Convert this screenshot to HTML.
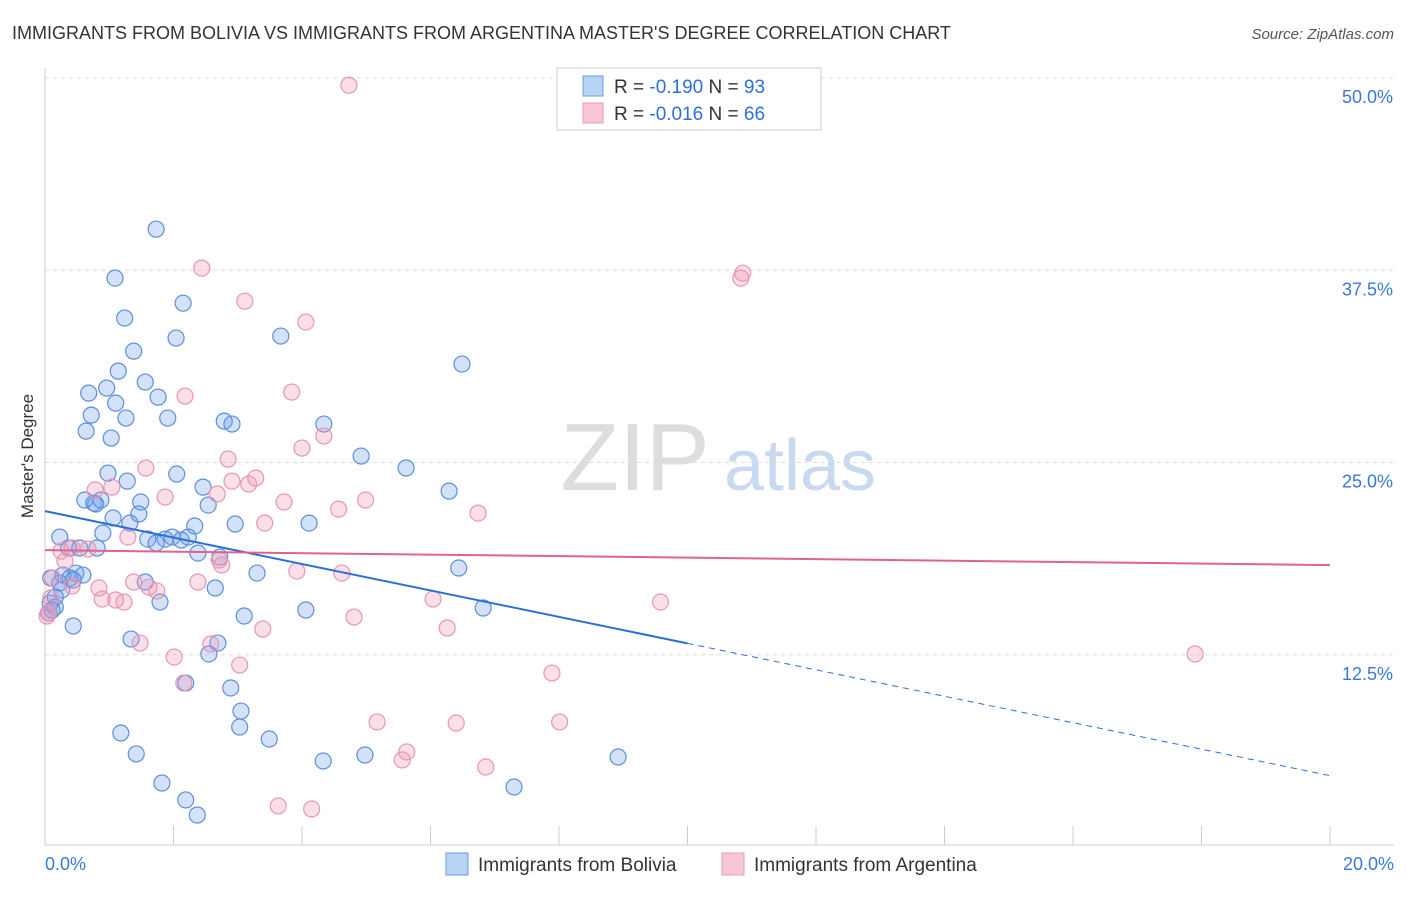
<!DOCTYPE html>
<html><head><meta charset="utf-8"><style>
body{margin:0;background:#fff;font-family:"Liberation Sans",sans-serif;}
svg text{font-family:"Liberation Sans",sans-serif;}
</style></head><body>
<svg id="chart" width="1406" height="892" xmlns="http://www.w3.org/2000/svg">
<text x="12" y="39" font-size="18" fill="#333">IMMIGRANTS FROM BOLIVIA VS IMMIGRANTS FROM ARGENTINA MASTER'S DEGREE CORRELATION CHART</text>
<text x="1394" y="39" font-size="15" fill="#555" text-anchor="end" font-style="italic">Source: ZipAtlas.com</text>
<text transform="translate(33,456) rotate(-90)" font-size="17" fill="#333" text-anchor="middle">Master's Degree</text>
<g>
<text x="635" y="490" font-size="96" fill="#ddd" font-family="Liberation Serif" text-anchor="middle">ZIP</text>
<text x="800" y="490" font-size="72" fill="#c9daf0" text-anchor="middle">atlas</text>
</g>
<g id="grid"></g><g id="axes"></g><g id="pts"></g><g id="trend"></g>
<g>
<rect x="557" y="68" width="264" height="62" fill="#fff" stroke="#ccc"/>
<rect x="583" y="76" width="20" height="20" fill="#b9d3f5" stroke="#6a9ee0"/>
<rect x="583" y="103" width="20" height="20" fill="#f9c6d6" stroke="#eb9ab6"/>
<text x="614" y="93" font-size="19" fill="#333">R = <tspan fill="#2f6fd6">-0.190</tspan>   N = <tspan fill="#2f6fd6">93</tspan></text>
<text x="614" y="120" font-size="19" fill="#333">R = <tspan fill="#2f6fd6">-0.016</tspan>   N = <tspan fill="#2f6fd6">66</tspan></text>
</g>
<g>
<rect x="446" y="853" width="22" height="22" fill="#b9d3f5" stroke="#6a9ee0"/>
<text x="478" y="871" font-size="19" fill="#333">Immigrants from Bolivia</text>
<rect x="722" y="853" width="22" height="22" fill="#f9c6d6" stroke="#eb9ab6"/>
<text x="754" y="871" font-size="19" fill="#333">Immigrants from Argentina</text>
</g>
</svg>
<script>
const boliviaX=[1.73,1.09,2.15,1.24,2.04,3.67,1.38,1.14,1.56,0.68,0.96,1.76,1.10,0.72,1.26,1.91,2.79,2.91,4.34,0.64,1.03,6.49,4.92,5.62,0.98,2.05,1.28,2.46,6.29,0.62,0.76,0.87,1.49,0.79,2.54,1.46,1.06,1.32,2.96,2.33,4.11,0.23,0.90,1.60,1.87,1.98,2.12,1.73,2.38,0.37,0.81,0.54,2.72,0.48,0.28,0.59,3.30,6.44,1.56,0.39,0.23,0.44,0.09,0.26,0.16,0.08,2.65,1.79,0.16,0.06,4.06,6.82,3.10,0.44,1.34,2.69,2.55,2.19,2.89,3.05,1.18,3.03,3.49,1.42,4.33,4.98,8.92,1.82,2.19,2.37,7.30,2.23,0.11];
const boliviaY=[40.17,36.99,35.36,34.39,33.09,33.22,32.24,30.94,30.23,29.51,29.84,29.25,28.86,28.08,27.89,27.89,27.69,27.50,27.50,27.04,26.59,31.40,25.42,24.64,24.31,24.25,23.79,23.40,23.14,22.56,22.36,22.56,22.43,22.30,22.23,21.65,21.39,21.06,21.00,20.87,21.06,20.15,20.41,20.02,20.02,20.15,19.96,19.76,19.11,19.44,19.44,19.44,18.85,17.81,17.68,17.68,17.81,18.14,17.23,17.49,17.16,17.36,17.49,16.71,16.25,15.86,16.84,15.93,15.60,15.21,15.41,15.54,15.02,14.37,13.52,13.26,12.55,10.66,10.34,8.84,7.41,7.80,7.02,6.05,5.59,5.98,5.85,4.16,3.06,2.08,3.90,20.15,15.41];
const argentinaX=[4.73,2.44,10.86,10.83,3.11,4.06,3.84,2.18,4.34,4.00,2.85,1.57,3.28,2.91,3.17,0.78,1.04,2.68,1.87,3.72,4.99,4.57,6.74,3.42,1.29,0.42,0.67,0.25,0.31,2.71,2.75,3.92,4.62,0.12,1.38,1.62,1.74,0.42,0.84,2.38,0.89,1.10,1.23,6.04,9.58,4.81,3.39,6.26,2.58,1.48,2.01,3.03,2.16,7.89,17.90,5.17,6.40,8.01,5.63,5.56,6.86,3.63,4.15,0.03,0.05,0.09];
const argentinaY=[49.53,37.64,37.31,36.99,35.49,34.13,29.58,29.32,26.72,25.94,25.22,24.64,23.99,23.79,23.60,23.21,23.40,22.95,22.75,22.43,22.56,21.97,21.71,21.06,20.15,19.44,19.37,19.24,18.59,18.66,18.33,17.94,17.81,17.49,17.23,16.90,16.64,16.97,16.84,17.23,16.12,16.06,15.93,16.12,15.93,14.95,14.17,14.24,13.20,13.26,12.35,11.83,10.66,11.31,12.55,8.13,8.06,8.13,6.18,5.66,5.20,2.67,2.47,15.02,15.21,16.19];
const yTicks=[12.5,25.0,37.5,50.0];
const xTickLabels=["0.0%","20.0%"];
const boliviaTrend=[21.84,-0.86];
const argentinaTrend=[19.3,-0.0485];

const NS="http://www.w3.org/2000/svg";
const X0=45,X1=1330,Y0=847,PY=15.38;
const sx=v=>X0+(X1-X0)*v/20;
const sy=v=>Y0-v*PY;
function mk(tag,attrs,parent){const e=document.createElementNS(NS,tag);for(const k in attrs)e.setAttribute(k,attrs[k]);parent.appendChild(e);return e;}
const grid=document.getElementById('grid'),axes=document.getElementById('axes');
yTicks.forEach(t=>{
  const l=mk('line',{x1:X0,x2:1394,y1:sy(t),y2:sy(t),stroke:'#ddd','stroke-dasharray':'4,4'},grid);
  
  
  const tx=mk('text',{x:1393,y:sy(t)+25,'font-size':18,fill:'#3a78d8','text-anchor':'end'},axes);
  tx.textContent=t.toFixed(1)+'%';
  
  
});
const xl=mk('line',{x1:X0,x2:1394,y1:845,y2:845,stroke:'#ccc'},axes);


const yl=mk('line',{x1:X0,x2:X0,y1:68,y2:845,stroke:'#ccc'},axes);


for(let i=0;i<=10;i++){const tk=mk('line',{x1:sx(i*2),x2:sx(i*2),y1:826,y2:845,stroke:'#ccc'},axes);
  
  }
xTickLabels.forEach((s,i)=>{const t=mk('text',{x:i?1394:45,y:870,'font-size':18,fill:'#3a78d8','text-anchor':i?'end':'start'},axes);t.textContent=s;
  
  });
const pts=document.getElementById('pts');
boliviaX.forEach((x,i)=>{const c=mk('circle',{cx:sx(x),cy:sy(boliviaY[i]),r:8,fill:'rgba(110,160,235,0.3)',stroke:'#5c90dc','stroke-width':1.2},pts);
  
  });
argentinaX.forEach((x,i)=>{const c=mk('circle',{cx:sx(x),cy:sy(argentinaY[i]),r:8,fill:'rgba(240,150,180,0.3)',stroke:'#e896b3','stroke-width':1.2},pts);
  
  });
const tr=document.getElementById('trend');
const bf=x=>boliviaTrend[0]+boliviaTrend[1]*x, af=x=>argentinaTrend[0]+argentinaTrend[1]*x;
const b1=mk('line',{x1:sx(0),y1:sy(bf(0)),x2:sx(10),y2:sy(bf(10)),stroke:'#2a6fd6','stroke-width':2},tr);


const b2=mk('line',{x1:sx(10),y1:sy(bf(10)),x2:sx(20),y2:sy(bf(20)),stroke:'#2a6fd6','stroke-width':1,'stroke-dasharray':'6,5'},tr);


const a1=mk('line',{x1:sx(0),y1:sy(af(0)),x2:sx(20),y2:sy(af(20)),stroke:'#e0628f','stroke-width':2},tr);


</script>
</body></html>
